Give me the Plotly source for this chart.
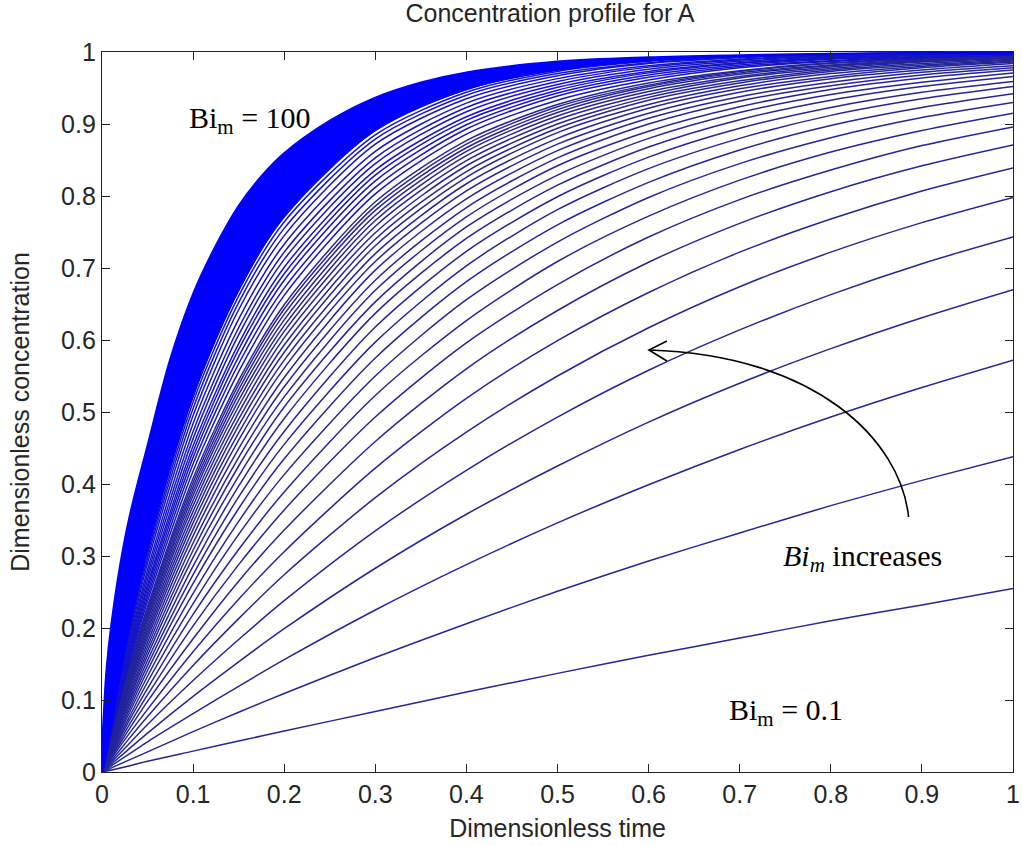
import plotly.graph_objects as go

# ---------------- data ----------------
time_grid = [0, 0.025, 0.05, 0.1, 0.15, 0.2, 0.3, 0.4, 0.5, 0.6, 0.7, 0.8, 0.9, 1.0]

# Bi_m = 0.1 ... 1.0 (step 0.1)
conc_bi_01_10 = [
    [0, 0.007, 0.015, 0.029, 0.043, 0.057, 0.084, 0.111, 0.137, 0.162, 0.186, 0.210, 0.232, 0.255],
    [0, 0.014, 0.028, 0.056, 0.083, 0.109, 0.159, 0.206, 0.251, 0.293, 0.332, 0.370, 0.405, 0.438],
    [0, 0.021, 0.042, 0.081, 0.119, 0.156, 0.225, 0.288, 0.346, 0.399, 0.448, 0.493, 0.534, 0.572],
    [0, 0.027, 0.054, 0.105, 0.153, 0.199, 0.283, 0.358, 0.425, 0.486, 0.540, 0.588, 0.631, 0.670],
    [0, 0.033, 0.066, 0.127, 0.184, 0.238, 0.335, 0.419, 0.493, 0.558, 0.614, 0.663, 0.706, 0.743],
    [0, 0.039, 0.077, 0.148, 0.213, 0.274, 0.381, 0.472, 0.550, 0.617, 0.674, 0.722, 0.763, 0.798],
    [0, 0.045, 0.087, 0.167, 0.240, 0.306, 0.422, 0.519, 0.599, 0.666, 0.722, 0.768, 0.807, 0.839],
    [0, 0.050, 0.098, 0.185, 0.265, 0.336, 0.459, 0.560, 0.641, 0.708, 0.762, 0.806, 0.842, 0.871],
    [0, 0.055, 0.107, 0.203, 0.288, 0.364, 0.493, 0.596, 0.677, 0.743, 0.795, 0.836, 0.870, 0.896],
    [0, 0.060, 0.116, 0.219, 0.309, 0.389, 0.523, 0.627, 0.709, 0.772, 0.822, 0.861, 0.891, 0.915],
]

# Bi_m = 1.1 ... 2.0 (step 0.1)
conc_bi_11_20 = [
    [0, 0.064, 0.125, 0.234, 0.330, 0.413, 0.550, 0.656, 0.736, 0.798, 0.845, 0.881, 0.909, 0.930],
    [0, 0.069, 0.133, 0.248, 0.348, 0.435, 0.575, 0.681, 0.760, 0.819, 0.864, 0.898, 0.923, 0.942],
    [0, 0.073, 0.141, 0.262, 0.366, 0.455, 0.597, 0.703, 0.781, 0.838, 0.880, 0.912, 0.935, 0.952],
    [0, 0.077, 0.148, 0.274, 0.382, 0.473, 0.618, 0.723, 0.799, 0.854, 0.894, 0.923, 0.944, 0.959],
    [0, 0.081, 0.155, 0.286, 0.397, 0.491, 0.637, 0.741, 0.815, 0.868, 0.906, 0.933, 0.952, 0.966],
    [0, 0.085, 0.162, 0.298, 0.411, 0.507, 0.653, 0.757, 0.829, 0.880, 0.916, 0.941, 0.958, 0.971],
    [0, 0.088, 0.168, 0.308, 0.425, 0.521, 0.669, 0.771, 0.842, 0.890, 0.924, 0.948, 0.964, 0.975],
    [0, 0.091, 0.174, 0.318, 0.437, 0.535, 0.683, 0.784, 0.853, 0.900, 0.932, 0.953, 0.968, 0.978],
    [0, 0.095, 0.180, 0.328, 0.449, 0.548, 0.697, 0.796, 0.863, 0.908, 0.938, 0.958, 0.972, 0.981],
    [0, 0.098, 0.186, 0.337, 0.461, 0.561, 0.709, 0.807, 0.872, 0.915, 0.944, 0.963, 0.975, 0.984],
]

# Bi_m = 2.1 ... 3.0 (step 0.1)
conc_bi_21_30 = [
    [0, 0.101, 0.191, 0.346, 0.471, 0.572, 0.720, 0.817, 0.880, 0.922, 0.949, 0.966, 0.978, 0.986],
    [0, 0.104, 0.196, 0.354, 0.481, 0.583, 0.731, 0.826, 0.888, 0.927, 0.953, 0.970, 0.980, 0.987],
    [0, 0.106, 0.201, 0.362, 0.490, 0.593, 0.740, 0.834, 0.894, 0.933, 0.957, 0.973, 0.982, 0.989],
    [0, 0.109, 0.206, 0.370, 0.499, 0.603, 0.749, 0.842, 0.900, 0.937, 0.960, 0.975, 0.984, 0.990],
    [0, 0.112, 0.211, 0.377, 0.508, 0.612, 0.758, 0.849, 0.906, 0.941, 0.964, 0.977, 0.986, 0.991],
    [0, 0.114, 0.215, 0.384, 0.516, 0.620, 0.766, 0.856, 0.911, 0.945, 0.966, 0.979, 0.987, 0.992],
    [0, 0.116, 0.219, 0.390, 0.524, 0.628, 0.773, 0.862, 0.916, 0.949, 0.969, 0.981, 0.988, 0.993],
    [0, 0.119, 0.223, 0.396, 0.531, 0.636, 0.780, 0.867, 0.920, 0.952, 0.971, 0.982, 0.989, 0.994],
    [0, 0.121, 0.227, 0.402, 0.538, 0.643, 0.786, 0.872, 0.924, 0.954, 0.973, 0.984, 0.990, 0.994],
    [0, 0.123, 0.230, 0.408, 0.544, 0.649, 0.792, 0.877, 0.927, 0.957, 0.974, 0.985, 0.991, 0.995],
]

# Bi_m = 3.2 ... 7.0 (tightly packed curves)
conc_bi_dense = [
    [0, 0.127, 0.237, 0.418, 0.556, 0.662, 0.803, 0.886, 0.933, 0.961, 0.978, 0.987, 0.992, 0.996],
    [0, 0.130, 0.243, 0.428, 0.567, 0.672, 0.812, 0.893, 0.939, 0.965, 0.980, 0.988, 0.993, 0.996],
    [0, 0.134, 0.249, 0.437, 0.577, 0.683, 0.821, 0.899, 0.943, 0.968, 0.982, 0.990, 0.994, 0.997],
    [0, 0.137, 0.255, 0.445, 0.587, 0.692, 0.829, 0.905, 0.947, 0.971, 0.984, 0.991, 0.995, 0.997],
    [0, 0.140, 0.260, 0.453, 0.595, 0.701, 0.836, 0.910, 0.951, 0.973, 0.985, 0.992, 0.996, 0.998],
    [0, 0.144, 0.267, 0.463, 0.607, 0.712, 0.845, 0.917, 0.955, 0.976, 0.987, 0.993, 0.996, 0.998],
    [0, 0.148, 0.274, 0.473, 0.617, 0.722, 0.853, 0.923, 0.959, 0.979, 0.989, 0.994, 0.997, 0.998],
    [0, 0.152, 0.281, 0.484, 0.629, 0.733, 0.862, 0.929, 0.963, 0.981, 0.990, 0.995, 0.997, 0.999],
    [0, 0.157, 0.290, 0.495, 0.642, 0.745, 0.872, 0.935, 0.967, 0.984, 0.992, 0.996, 0.998, 0.999],
    [0, 0.161, 0.297, 0.505, 0.652, 0.755, 0.879, 0.940, 0.970, 0.985, 0.993, 0.996, 0.998, 0.999],
    [0, 0.165, 0.303, 0.514, 0.661, 0.764, 0.885, 0.944, 0.973, 0.987, 0.994, 0.997, 0.998, 0.999],
    [0, 0.168, 0.309, 0.522, 0.669, 0.771, 0.891, 0.948, 0.975, 0.988, 0.994, 0.997, 0.999, 0.999],
]

# Bi_m = 100 envelope (upper edge of the saturated band)
top_time = [0, 0.0025, 0.005, 0.01, 0.02, 0.03, 0.05, 0.075, 0.1, 0.125, 0.15, 0.175, 0.2,
            0.25, 0.3, 0.35, 0.4, 0.5, 0.6, 0.7, 0.8, 0.9, 1.0]
top_conc = [0, 0.10, 0.147, 0.205, 0.29, 0.355, 0.455, 0.575, 0.665, 0.732, 0.787, 0.828, 0.86,
            0.905, 0.937, 0.958, 0.972, 0.987, 0.993, 0.996, 0.998, 0.999, 1.0]

tick_vals = [0, 0.1, 0.2, 0.3, 0.4, 0.5, 0.6, 0.7, 0.8, 0.9, 1]
tick_text = ["0", "0.1", "0.2", "0.3", "0.4", "0.5", "0.6", "0.7", "0.8", "0.9", "1"]

# ---------------- figure ----------------
fig = go.Figure()

navy = "#25259a"
for row in conc_bi_01_10 + conc_bi_11_20 + conc_bi_21_30:
    fig.add_trace(go.Scatter(
        x=time_grid, y=row, mode="lines",
        line=dict(color=navy, width=1.5, shape="spline", smoothing=0.8),
        hoverinfo="skip", showlegend=False))

for row in conc_bi_dense:
    fig.add_trace(go.Scatter(
        x=time_grid, y=row, mode="lines",
        line=dict(color="#1414c8", width=1.5, shape="spline", smoothing=0.8),
        hoverinfo="skip", showlegend=False))

# saturated band between the last dense curve and the Bi_m = 100 curve
fig.add_trace(go.Scatter(
    x=top_time + time_grid[::-1],
    y=top_conc + conc_bi_dense[-1][::-1],
    mode="lines", fill="toself", fillcolor="#0000ff",
    line=dict(color="#0000ff", width=1.5, shape="spline", smoothing=1.0),
    hoverinfo="skip", showlegend=False))

text_col = "#262626"
sans = dict(family="Liberation Sans, Arial, sans-serif", size=25, color=text_col)
serif = dict(family="Liberation Serif, Times New Roman, serif", size=30, color="black")

axis_common = dict(
    range=[0, 1], tickvals=tick_vals, ticktext=tick_text,
    ticks="inside", ticklen=8, tickwidth=1.2, tickcolor="#222",
    showline=True, linecolor="#222", linewidth=1.3, mirror="ticks",
    showgrid=False, zeroline=False, ticklabeloverflow="allow",
    tickfont=sans,
)
fig.update_xaxes(**axis_common, title=dict(text="Dimensionless time", font=sans, standoff=12))
fig.update_yaxes(**axis_common, title=dict(text="Dimensionless concentration", font=sans, standoff=24))

fig.update_layout(
    width=1022, height=846,
    margin=dict(l=102, r=9, t=52, b=74, autoexpand=False),
    paper_bgcolor="white", plot_bgcolor="white",
    showlegend=False,
    font=sans,
    title=dict(text="Concentration profile for A", font=sans,
               xref="container", yref="container",
               x=550 / 1022, y=1 - 13 / 846, xanchor="center", yanchor="middle"),
)

fig.add_annotation(text="Bi<sub>m</sub> = 100", xref="x", yref="y",
                   x=0.093, y=0.905, xanchor="left", yanchor="middle",
                   showarrow=False, font=serif)
fig.add_annotation(text="Bi<sub>m</sub> = 0.1", xref="x", yref="y",
                   x=0.686, y=0.084, xanchor="left", yanchor="middle",
                   showarrow=False, font=serif)
fig.add_annotation(text="<i>Bi<sub>m</sub></i> increases", xref="x", yref="y",
                   x=0.745, y=0.297, xanchor="left", yanchor="middle",
                   showarrow=False, font=serif)

# curved arrow
fig.add_shape(type="path", xref="x", yref="y",
              path="M 0.8854,0.3542 C 0.8766,0.4611 0.7838,0.5792 0.6004,0.5861",
              line=dict(color="black", width=1.6))
fig.add_shape(type="path", xref="x", yref="y",
              path="M 0.6201,0.5986 L 0.6004,0.5861 L 0.6201,0.5708",
              line=dict(color="black", width=1.6))

fig.write_html("out.html")
